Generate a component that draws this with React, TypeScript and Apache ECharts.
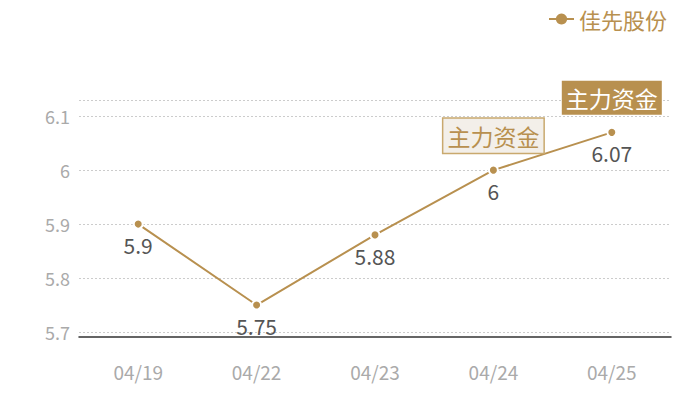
import * as echarts from 'echarts';
import { useEffect, useRef } from 'react';

const dates = ['04/19', '04/22', '04/23', '04/24', '04/25'];
const prices = [5.9, 5.75, 5.88, 6.0, 6.07];
const seriesName = '佳先股份';
const fundTagText = '主力资金';
const fundTagDates = ['04/24', '04/25'];

const gold = '#b8904f';
const fontFamily = '"Noto Sans CJK SC", "Noto Sans", sans-serif';

function buildOption() {
  const tagData = fundTagDates.map((date, i) => {
    const dark = i === fundTagDates.length - 1;
    return {
      coord: [date, prices[dates.indexOf(date)]],
      label: {
        color: dark ? '#fff' : gold,
        backgroundColor: dark ? gold : '#f3efe9',
        borderColor: dark ? gold : '#c9a96e',
        borderWidth: dark ? 0 : 1.5,
      },
    };
  });

  return {
    animation: false,
    textStyle: { fontFamily },
    legend: {
      top: 3,
      right: 28,
      itemWidth: 25,
      itemHeight: 14,
      itemGap: 6,
      itemStyle: { borderWidth: 0 },
      textStyle: { color: gold, fontSize: 22, fontFamily },
      data: [seriesName],
    },
    grid: { left: 79, right: 29, top: 100, bottom: 68 },
    xAxis: {
      type: 'category',
      data: dates,
      offset: 5,
      axisLine: { lineStyle: { color: '#333', width: 1.5 } },
      axisTick: { show: false },
      axisLabel: { color: '#aaa', fontSize: 19, margin: 25, fontFamily },
    },
    yAxis: {
      type: 'value',
      min: 5.7,
      max: 6.13,
      interval: 0.1,
      axisLine: { show: false },
      axisTick: { show: false },
      axisLabel: {
        color: '#aaa',
        fontSize: 18,
        margin: 9,
        showMaxLabel: false,
        fontFamily,
        formatter: (v: number) => String(Math.round(v * 100) / 100),
      },
      splitLine: { lineStyle: { color: '#ccc', type: [2, 2] } },
    },
    series: [
      {
        name: seriesName,
        type: 'line',
        data: prices,
        symbol: 'circle',
        symbolSize: 9,
        color: gold,
        lineStyle: { color: gold, width: 2 },
        itemStyle: { color: gold, borderColor: '#fff', borderWidth: 2 },
        label: {
          show: true,
          position: 'bottom',
          distance: 5,
          color: '#555',
          fontSize: 21,
          fontFamily,
        },
        markPoint: {
          symbol: 'rect',
          symbolSize: 1,
          itemStyle: { color: 'transparent' },
          label: {
            show: true,
            position: 'top',
            distance: 17,
            formatter: fundTagText,
            fontSize: 23,
            lineHeight: 25,
            padding: [5, 4, 4, 4],
            fontFamily,
          },
          data: tagData,
        },
      },
    ],
  };
}

export default function App() {
  const ref = useRef<HTMLDivElement | null>(null);

  useEffect(() => {
    if (!ref.current) return;
    const chart = echarts.init(ref.current, undefined, { renderer: 'svg' });
    chart.setOption(buildOption());
    return () => chart.dispose();
  }, []);

  return <div ref={ref} style={{ width: 700, height: 400, margin: -8 }} />;
}
